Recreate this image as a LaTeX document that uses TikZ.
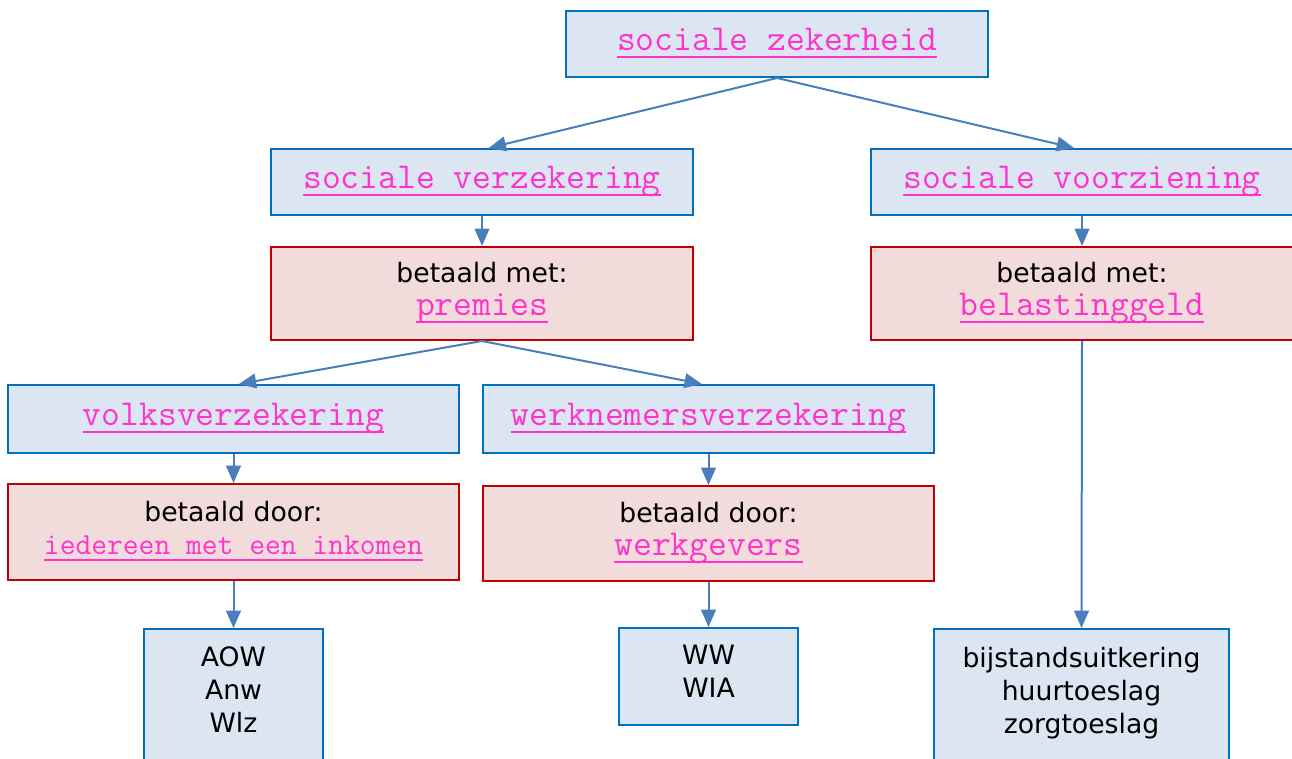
\documentclass[tikz,border=0pt]{standalone}
\usepackage{fontspec}
\setmainfont{DejaVu Sans}
\usetikzlibrary{arrows.meta}

\definecolor{boxblue}{HTML}{DCE6F2}
\definecolor{lineblue}{HTML}{0070C0}
\definecolor{boxred}{HTML}{F2DCDB}
\definecolor{linered}{HTML}{C00000}
\definecolor{arrowblue}{HTML}{4A7EBB}
\definecolor{linkpink}{HTML}{FF33CC}

% underlined link text
\newcommand{\lnk}[2][27.4pt]{{\fontsize{#1}{#1}\selectfont\ttfamily\color{linkpink}%
  \setbox0\hbox{#2}\rlap{\smash{\rule[-0.19em]{\wd0}{0.055em}}}%
  \rule[-0.25em]{0pt}{0.8em}\box0}}

\tikzset{
  bluebox/.style={draw=lineblue, fill=boxblue, line width=1.5pt, align=center, inner sep=2pt},
  redbox/.style={draw=linered, fill=boxred, line width=1.5pt, align=center, inner sep=2pt},
  arrow/.style={arrowblue, line width=1.5pt, -{Triangle[length=13pt,width=11pt]}}
}

\begin{document}
\begin{tikzpicture}[x=0.75pt, y=-0.75pt, font=\fontsize{20pt}{24.75pt}\selectfont]
    \useasboundingbox (0,0) rectangle (1292,758);
    \clip (0,0) rectangle (1292,758);
    % top level
    \node[bluebox, minimum width=316.5pt, minimum height=49.5pt] (zekerheid) at (777,44)
    {\lnk{sociale zekerheid}};
    % second level
    \node[bluebox, minimum width=316.5pt, minimum height=49.5pt] (verzekering) at (482,182)
    {\lnk{sociale verzekering}};
    \node[bluebox, minimum width=316.5pt, minimum height=49.5pt] (voorziening) at (1082,182)
    {\lnk{sociale voorziening}};
    % how it is paid
    \node[redbox, minimum width=316.5pt, minimum height=69.75pt] (premies) at (482,293.5)
    {betaald met:\\ \lnk{premies}};
    \node[redbox, minimum width=316.5pt, minimum height=69.75pt] (belasting) at (1082,293.5)
    {betaald met:\\ \lnk{belastinggeld}};
    % kinds of insurance
    \node[bluebox, minimum width=338.25pt, minimum height=51pt] (volks) at (233.5,419)
    {\lnk{volksverzekering}};
    \node[bluebox, minimum width=338.25pt, minimum height=51pt] (werknemers) at (708.5,419)
    {\lnk{werknemersverzekering}};
    % who pays
    \node[redbox, minimum width=338.25pt, minimum height=72pt] (iedereen) at (233.5,532)
    {betaald door:\\ \lnk[23pt]{iedereen met een inkomen}};
    \node[redbox, minimum width=338.25pt, minimum height=71.25pt] (werkgevers) at (708.5,533.5)
    {betaald door:\\ \lnk{werkgevers}};
    % laws
    \node[bluebox, anchor=north, minimum width=134.25pt, inner ysep=13.5pt, text depth=100pt]
    (aow) at (233.5,628) {AOW\\ Anw\\ Wlz};
    \node[bluebox, minimum width=134.25pt, minimum height=72.75pt] (ww) at (708.5,676.5)
    {WW\\ WIA\rule[-7.5pt]{0pt}{7.5pt}};
    \node[bluebox, anchor=north, minimum width=221.25pt, inner ysep=13.5pt, text depth=100pt]
    (bijstand) at (1081.5,628) {bijstandsuitkering\\ huurtoeslag\\ zorgtoeslag};
    % connectors
    \draw[arrow] (zekerheid.south) -- ([xshift=5pt]verzekering.north);
    \draw[arrow] (zekerheid.south) -- ([xshift=-6pt]voorziening.north);
    \draw[arrow] (verzekering) -- (premies);
    \draw[arrow] (voorziening) -- (belasting);
    \draw[arrow] (premies.south) -- ([xshift=4pt]volks.north);
    \draw[arrow] (premies.south) -- ([xshift=-5pt]werknemers.north);
    \draw[arrow] (volks) -- (iedereen);
    \draw[arrow] (werknemers) -- (werkgevers);
    \draw[arrow] (iedereen.south) -- (aow.north);
    \draw[arrow] (werkgevers.south) -- (ww.north);
    \draw[arrow] (belasting.south) -- (bijstand.north);
\end{tikzpicture}
\end{document}
